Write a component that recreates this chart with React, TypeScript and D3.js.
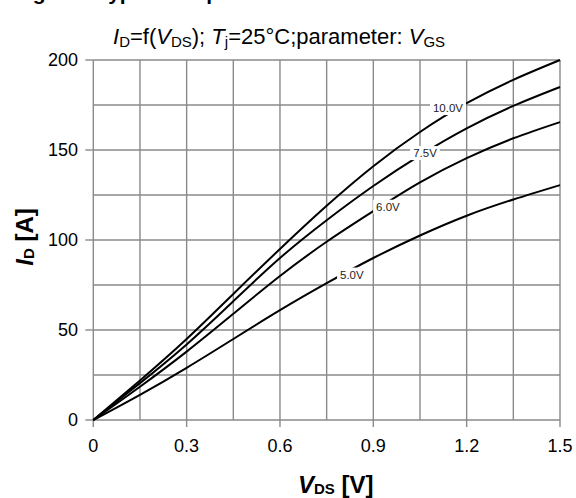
import React from "react";
import * as d3 from "d3";

const vds = [0, 0.15, 0.3, 0.45, 0.6, 0.75, 0.9, 1.05, 1.2, 1.35, 1.5];
const id10 = [0, 22, 45, 70, 95, 119, 141, 160, 176, 189, 200];
const id75 = [0, 20.5, 42, 66, 90, 111, 130, 147, 162, 174.5, 185];
const id60 = [0, 18.5, 38, 59, 80, 99, 116, 132, 145.5, 156.5, 165.5];
const id50 = [0, 14, 29, 45, 61, 76, 90, 102.5, 113.5, 122.5, 130.5];

const seriesNames = ["10.0V", "7.5V", "6.0V", "5.0V"];
const seriesValues = [id10, id75, id60, id50];
const labelV = [1.14, 1.066, 0.947, 0.831];
const labelI = [173.3, 148.3, 118.5, 80.8];

const xTicks = [0, 0.3, 0.6, 0.9, 1.2, 1.5];
const xTickLabels = ["0", "0.3", "0.6", "0.9", "1.2", "1.5"];
const yTicks = [0, 50, 100, 150, 200];
const xGrid = [0, 0.15, 0.3, 0.45, 0.6, 0.75, 0.9, 1.05, 1.2, 1.35, 1.5];
const yGrid = [0, 25, 50, 75, 100, 125, 150, 175, 200];

const FONT = "'Liberation Sans', Arial, Helvetica, sans-serif";
const GRID = "#8a8a8a";

export default function App() {
  const x = d3.scaleLinear().domain([0, 1.5]).range([93.3, 560]);
  const y = d3.scaleLinear().domain([0, 200]).range([420, 60]);
  const line = d3
    .line<number>()
    .x((_, i) => x(vds[i]))
    .y((d) => y(d))
    .curve(d3.curveNatural);

  return (
    <svg
      width={576}
      height={498}
      style={{ position: "absolute", left: 0, top: 0, background: "#fff" }}
      fontFamily={FONT}
    >
      <text x={0} y={-0.5} fontSize={21} fontWeight="bold" fill="#000">
        Diagram: Typical output characteristics
      </text>
      <text x={113} y={44} fontSize={22} fill="#000">
        <tspan fontStyle="italic">I</tspan>
        <tspan fontSize={15} dy={3}>D</tspan>
        <tspan dy={-3}>=f(</tspan>
        <tspan fontStyle="italic">V</tspan>
        <tspan fontSize={15} dy={3}>DS</tspan>
        <tspan dy={-3}>); </tspan>
        <tspan fontStyle="italic">T</tspan>
        <tspan fontSize={15} dy={3}>j</tspan>
        <tspan dy={-3}>=25°C;parameter: </tspan>
        <tspan fontStyle="italic">V</tspan>
        <tspan fontSize={15} dy={3}>GS</tspan>
      </text>

      {xGrid.map((v) => (
        <line key={"xg" + v} x1={x(v)} x2={x(v)} y1={y(200)} y2={y(0)} stroke={GRID} strokeWidth={1.4} />
      ))}
      {yGrid.map((v) => (
        <line key={"yg" + v} x1={x(0)} x2={x(1.5)} y1={y(v)} y2={y(v)} stroke={GRID} strokeWidth={1.4} />
      ))}
      {xTicks.map((v) => (
        <line key={"xt" + v} x1={x(v)} x2={x(v)} y1={y(0)} y2={y(0) + 7} stroke={GRID} strokeWidth={1.4} />
      ))}
      {yTicks.map((v) => (
        <line key={"yt" + v} x1={x(0) - 8} x2={x(0)} y1={y(v)} y2={y(v)} stroke={GRID} strokeWidth={1.4} />
      ))}

      {xTicks.map((v, i) => (
        <text key={"xl" + v} x={x(v)} y={452} fontSize={18} textAnchor="middle" fill="#000">
          {xTickLabels[i]}
        </text>
      ))}
      {yTicks.map((v) => (
        <text key={"yl" + v} x={78} y={y(v) + 6} fontSize={18} textAnchor="end" fill="#000">
          {v}
        </text>
      ))}

      {seriesValues.map((vals, i) => (
        <path key={"s" + i} d={line(vals) || ""} fill="none" stroke="#000" strokeWidth={2} />
      ))}

      {seriesNames.map((n, i) => {
        const w = n.length * 6.4 + 4;
        return (
          <g key={"lab" + n} transform={`translate(${x(labelV[i])},${y(labelI[i])})`}>
            <rect x={-w / 2} y={-7} width={w} height={14} fill="#fff" />
            <text x={0} y={4} fontSize={11.5} textAnchor="middle" fill="#222">
              {n}
            </text>
          </g>
        );
      })}

      <text x={298} y={493} fontSize={24} fontWeight="bold" fill="#000">
        <tspan fontStyle="italic">V</tspan>
        <tspan fontSize={15} dy={1}>DS</tspan>
        <tspan dy={-1}> [V]</tspan>
      </text>
      <text transform="translate(33,237) rotate(-90)" fontSize={24} fontWeight="bold" textAnchor="middle" fill="#000">
        <tspan fontStyle="italic">I</tspan>
        <tspan fontSize={15} dy={1}>D</tspan>
        <tspan dy={-1}> [A]</tspan>
      </text>
    </svg>
  );
}
